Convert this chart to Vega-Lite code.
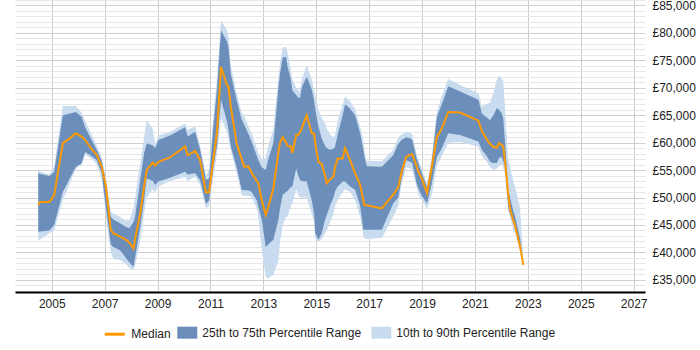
{
  "$schema": "https://vega.github.io/schema/vega-lite/v6.json",
  "width": 630,
  "height": 292,
  "autosize": "none",
  "padding": {"left": 15, "top": 0, "right": 55, "bottom": 58},
  "background": "white",
  "config": {
    "view": {"stroke": null},
    "font": "Liberation Sans",
    "axis": {"labelFont": "Liberation Sans", "labelFontSize": 12, "labelColor": "#222", "title": null},
    "legend": {"padding": 0, "labelFont": "Liberation Sans", "labelFontSize": 12, "labelColor": "#222", "labelOffset": 5, "title": null}
  },
  "data": {"values": [
    {"t":2004.49,"p10":42250,"p25":43770,"m":48650,"p75":54520,"p90":54900},
    {"t":2004.56,"p10":42300,"p25":43800,"m":49200,"p75":54300,"p90":54700},
    {"t":2004.91,"p10":43500,"p25":44000,"m":49200,"p75":53900,"p90":54200},
    {"t":2005.09,"p10":44000,"p25":45000,"m":50400,"p75":54700,"p90":55500},
    {"t":2005.42,"p10":49500,"p25":51000,"m":59900,"p75":65000,"p90":66700},
    {"t":2005.63,"p10":52000,"p25":53000,"m":60600,"p75":65200,"p90":66700},
    {"t":2005.91,"p10":55200,"p25":55600,"m":61700,"p75":65600,"p90":66700},
    {"t":2006.13,"p10":56000,"p25":56200,"m":61100,"p75":64700,"p90":65500},
    {"t":2006.26,"p10":57800,"p25":58300,"m":60500,"p75":62800,"p90":64000},
    {"t":2006.51,"p10":57000,"p25":57500,"m":58800,"p75":60500,"p90":61500},
    {"t":2006.70,"p10":56000,"p25":56800,"m":57800,"p75":58700,"p90":59500},
    {"t":2006.89,"p10":53500,"p25":54400,"m":55600,"p75":56600,"p90":57300},
    {"t":2007.05,"p10":46500,"p25":48000,"m":52000,"p75":52500,"p90":53500},
    {"t":2007.23,"p10":40000,"p25":41500,"m":44100,"p75":46500,"p90":47500},
    {"t":2007.33,"p10":38800,"p25":41000,"m":43500,"p75":46000,"p90":47000},
    {"t":2007.58,"p10":38600,"p25":40400,"m":42850,"p75":45300,"p90":46500},
    {"t":2007.77,"p10":38000,"p25":39200,"m":42400,"p75":44700,"p90":45800},
    {"t":2007.93,"p10":37200,"p25":38200,"m":41800,"p75":44400,"p90":45800},
    {"t":2008.09,"p10":36800,"p25":37400,"m":40700,"p75":45500,"p90":48000},
    {"t":2008.15,"p10":37500,"p25":39000,"m":42500,"p75":46500,"p90":50000},
    {"t":2008.34,"p10":42000,"p25":44500,"m":47000,"p75":53000,"p90":56000},
    {"t":2008.49,"p10":47000,"p25":49500,"m":52000,"p75":58000,"p90":61000},
    {"t":2008.59,"p10":50000,"p25":53500,"m":55000,"p75":59900,"p90":64100},
    {"t":2008.82,"p10":51500,"p25":53000,"m":56400,"p75":59500,"p90":62500},
    {"t":2008.91,"p10":50800,"p25":52300,"m":55800,"p75":59000,"p90":59600},
    {"t":2009.03,"p10":52000,"p25":52900,"m":56500,"p75":60500,"p90":61300},
    {"t":2009.47,"p10":53000,"p25":53600,"m":57300,"p75":61300,"p90":62000},
    {"t":2010.04,"p10":53800,"p25":54700,"m":59300,"p75":62800,"p90":63500},
    {"t":2010.14,"p10":53000,"p25":54200,"m":57700,"p75":61100,"p90":62300},
    {"t":2010.42,"p10":53800,"p25":54400,"m":58500,"p75":62000,"p90":63000},
    {"t":2010.61,"p10":52300,"p25":53200,"m":56800,"p75":58700,"p90":59500},
    {"t":2010.83,"p10":48000,"p25":48800,"m":50900,"p75":53200,"p90":54000},
    {"t":2010.95,"p10":48500,"p25":49500,"m":51000,"p75":53500,"p90":55000},
    {"t":2011.11,"p10":54000,"p25":55500,"m":57000,"p75":63000,"p90":64500},
    {"t":2011.25,"p10":58000,"p25":59500,"m":62000,"p75":70000,"p90":72000},
    {"t":2011.40,"p10":64500,"p25":67800,"m":73800,"p75":80500,"p90":82300},
    {"t":2011.62,"p10":62000,"p25":64000,"m":70500,"p75":78500,"p90":80500},
    {"t":2011.68,"p10":60500,"p25":62500,"m":70200,"p75":77500,"p90":79500},
    {"t":2011.77,"p10":58500,"p25":59300,"m":66500,"p75":72500,"p90":74000},
    {"t":2011.99,"p10":54500,"p25":55500,"m":59900,"p75":67800,"p90":69000},
    {"t":2012.18,"p10":50500,"p25":51400,"m":57000,"p75":64200,"p90":65500},
    {"t":2012.28,"p10":50300,"p25":51300,"m":55600,"p75":63200,"p90":64800},
    {"t":2012.43,"p10":50300,"p25":51300,"m":55700,"p75":61600,"p90":63000},
    {"t":2012.56,"p10":50000,"p25":51000,"m":54500,"p75":60100,"p90":61600},
    {"t":2012.75,"p10":48000,"p25":49500,"m":53000,"p75":57600,"p90":59000},
    {"t":2012.81,"p10":46500,"p25":48300,"m":52600,"p75":56800,"p90":58000},
    {"t":2012.94,"p10":40500,"p25":46000,"m":49500,"p75":55500,"p90":57000},
    {"t":2013.09,"p10":35500,"p25":41000,"m":46800,"p75":55000,"p90":57200},
    {"t":2013.19,"p10":35300,"p25":41500,"m":48300,"p75":57000,"p90":59500},
    {"t":2013.38,"p10":35900,"p25":42300,"m":51700,"p75":60000,"p90":62500},
    {"t":2013.57,"p10":38500,"p25":46000,"m":58300,"p75":70000,"p90":72000},
    {"t":2013.63,"p10":42000,"p25":48000,"m":60000,"p75":72500,"p90":74500},
    {"t":2013.73,"p10":45000,"p25":50500,"m":61000,"p75":75500,"p90":77300},
    {"t":2013.86,"p10":46500,"p25":51000,"m":60000,"p75":75600,"p90":77500},
    {"t":2013.91,"p10":46500,"p25":51200,"m":59400,"p75":74000,"p90":76500},
    {"t":2014.04,"p10":48500,"p25":51900,"m":59300,"p75":71500,"p90":73300},
    {"t":2014.10,"p10":49000,"p25":52000,"m":58100,"p75":69500,"p90":71500},
    {"t":2014.24,"p10":51500,"p25":55300,"m":61400,"p75":68700,"p90":70000},
    {"t":2014.32,"p10":50500,"p25":54000,"m":61400,"p75":68200,"p90":69500},
    {"t":2014.39,"p10":50000,"p25":53200,"m":62000,"p75":68200,"p90":69500},
    {"t":2014.45,"p10":50000,"p25":53000,"m":62600,"p75":70000,"p90":71500},
    {"t":2014.64,"p10":50000,"p25":52900,"m":65000,"p75":72000,"p90":74100},
    {"t":2014.83,"p10":47000,"p25":49500,"m":61700,"p75":69700,"p90":71500},
    {"t":2014.92,"p10":45500,"p25":47000,"m":61600,"p75":67500,"p90":69500},
    {"t":2014.96,"p10":42500,"p25":43500,"m":60000,"p75":66200,"p90":68500},
    {"t":2015.08,"p10":41900,"p25":42300,"m":56500,"p75":63000,"p90":66000},
    {"t":2015.21,"p10":42500,"p25":43500,"m":56100,"p75":60700,"p90":64500},
    {"t":2015.33,"p10":43500,"p25":45900,"m":54000,"p75":59500,"p90":63500},
    {"t":2015.40,"p10":44000,"p25":46800,"m":52600,"p75":59000,"p90":62500},
    {"t":2015.52,"p10":45500,"p25":48500,"m":53300,"p75":58700,"p90":61500},
    {"t":2015.65,"p10":47000,"p25":50000,"m":53800,"p75":58900,"p90":61000},
    {"t":2015.71,"p10":48500,"p25":51100,"m":55500,"p75":59200,"p90":61300},
    {"t":2015.81,"p10":49500,"p25":52000,"m":57100,"p75":61500,"p90":64000},
    {"t":2016.00,"p10":51000,"p25":52900,"m":57100,"p75":65000,"p90":67000},
    {"t":2016.09,"p10":51500,"p25":52900,"m":59000,"p75":67000,"p90":68400},
    {"t":2016.28,"p10":51000,"p25":52000,"m":56800,"p75":66200,"p90":67500},
    {"t":2016.47,"p10":49500,"p25":51400,"m":54400,"p75":65000,"p90":66200},
    {"t":2016.66,"p10":46500,"p25":48500,"m":52300,"p75":61700,"p90":63000},
    {"t":2016.78,"p10":43000,"p25":44100,"m":49500,"p75":58800,"p90":60500},
    {"t":2016.82,"p10":42500,"p25":44100,"m":48600,"p75":57500,"p90":58500},
    {"t":2016.91,"p10":42500,"p25":44100,"m":48600,"p75":55700,"p90":56700},
    {"t":2017.48,"p10":42600,"p25":44100,"m":48000,"p75":55600,"p90":56600},
    {"t":2017.91,"p10":46500,"p25":48900,"m":50500,"p75":57700,"p90":58700},
    {"t":2018.10,"p10":48500,"p25":50000,"m":51900,"p75":59800,"p90":61000},
    {"t":2018.23,"p10":52500,"p25":53500,"m":54700,"p75":60500,"p90":61500},
    {"t":2018.40,"p10":55500,"p25":56800,"m":57400,"p75":61000,"p90":62000},
    {"t":2018.55,"p10":55300,"p25":56500,"m":57800,"p75":60800,"p90":61800},
    {"t":2018.63,"p10":55000,"p25":56300,"m":57900,"p75":60500,"p90":61500},
    {"t":2018.80,"p10":51800,"p25":52500,"m":55600,"p75":57000,"p90":57800},
    {"t":2018.86,"p10":50500,"p25":51700,"m":54700,"p75":56200,"p90":57000},
    {"t":2018.99,"p10":49500,"p25":50300,"m":53500,"p75":54500,"p90":55300},
    {"t":2019.19,"p10":48000,"p25":48900,"m":50800,"p75":51800,"p90":52500},
    {"t":2019.37,"p10":50500,"p25":52600,"m":55600,"p75":56500,"p90":57500},
    {"t":2019.56,"p10":55800,"p25":57400,"m":61000,"p75":64700,"p90":65600},
    {"t":2019.75,"p10":57500,"p25":59000,"m":62600,"p75":67000,"p90":68500},
    {"t":2019.99,"p10":60000,"p25":61700,"m":65600,"p75":70300,"p90":71600},
    {"t":2020.44,"p10":60100,"p25":61400,"m":65500,"p75":69300,"p90":70500},
    {"t":2021.13,"p10":59300,"p25":60200,"m":64000,"p75":67800,"p90":69000},
    {"t":2021.26,"p10":57500,"p25":58700,"m":62100,"p75":65300,"p90":66600},
    {"t":2021.45,"p10":56500,"p25":57500,"m":60600,"p75":64600,"p90":67000},
    {"t":2021.57,"p10":55500,"p25":56500,"m":59800,"p75":64100,"p90":67300},
    {"t":2021.70,"p10":55000,"p25":56300,"m":59200,"p75":65000,"p90":69000},
    {"t":2021.83,"p10":55300,"p25":56300,"m":59100,"p75":66300,"p90":71500},
    {"t":2021.91,"p10":55800,"p25":57200,"m":59900,"p75":66000,"p90":72300},
    {"t":2022.01,"p10":56000,"p25":57400,"m":59600,"p75":65400,"p90":71600},
    {"t":2022.07,"p10":55500,"p25":56600,"m":59300,"p75":64500,"p90":71400},
    {"t":2022.14,"p10":54000,"p25":55600,"m":56500,"p75":59900,"p90":66000},
    {"t":2022.26,"p10":47500,"p25":48300,"m":50500,"p75":51400,"p90":56800},
    {"t":2022.33,"p10":46500,"p25":47000,"m":47850,"p75":50000,"p90":55500},
    {"t":2022.45,"p10":44000,"p25":45300,"m":45800,"p75":47500,"p90":53000},
    {"t":2022.52,"p10":43500,"p25":44500,"m":44700,"p75":46500,"p90":52000},
    {"t":2022.71,"p10":40000,"p25":40500,"m":41000,"p75":42500,"p90":48000},
    {"t":2022.83,"p10":37300,"p25":37600,"m":37700,"p75":38000,"p90":38300}
  ]},
  "encoding": {
    "x": {
      "field": "t", "type": "quantitative",
      "scale": {"domain": [2003.61, 2027.43], "nice": false, "zero": false},
      "axis": {
        "values": [2005, 2007, 2009, 2011, 2013, 2015, 2017, 2019, 2021, 2023, 2025, 2027],
        "tickCount": 30,
        "format": "d", "grid": true, "gridColor": "#cccccc", "gridWidth": 1,
        "domain": true, "domainColor": "#000000", "domainWidth": 2,
        "ticks": false, "labelPadding": 6
      }
    }
  },
  "layer": [
    {
      "mark": {"type": "area", "opacity": 1},
      "encoding": {
        "y": {
          "field": "p10", "type": "quantitative",
          "scale": {"domain": [32776, 86000], "nice": false, "zero": false},
          "axis": {
            "orient": "right",
            "values": [33000,34000,35000,36000,37000,38000,39000,40000,41000,42000,43000,44000,45000,46000,47000,48000,49000,50000,51000,52000,53000,54000,55000,56000,57000,58000,59000,60000,61000,62000,63000,64000,65000,66000,67000,68000,69000,70000,71000,72000,73000,74000,75000,76000,77000,78000,79000,80000,81000,82000,83000,84000,85000,86000],
            "tickCount": 100,
            "labelExpr": "datum.value % 5000 === 0 ? '£' + format(datum.value, ',') : ''",
            "labelOverlap": false,
            "grid": true,
            "gridColor": {"condition": {"test": "datum.value % 5000 === 0", "value": "#cfcfcf"}, "value": "#e6e6e6"},
            "domain": false, "ticks": false, "labelPadding": 7
          }
        },
        "y2": {"field": "p90"},
        "fill": {
          "datum": "10th to 90th Percentile Range",
          "scale": {
            "domain": ["25th to 75th Percentile Range", "10th to 90th Percentile Range"],
            "range": ["#6b8fba", "#c9dbee"]
          },
          "legend": {
            "orient": "none", "legendX": 162.3, "legendY": 322.7,
            "direction": "horizontal",
            "symbolType": "M-1,-0.6H1V0.6H-1Z", "symbolSize": 400,
            "symbolStrokeWidth": 0, "symbolOpacity": 0.8,
            "columnPadding": 10
          }
        }
      }
    },
    {
      "mark": {"type": "area", "opacity": 1},
      "encoding": {
        "y": {"field": "p25", "type": "quantitative"},
        "y2": {"field": "p75"},
        "fill": {"datum": "25th to 75th Percentile Range"}
      }
    },
    {
      "mark": {"type": "line", "strokeWidth": 2},
      "encoding": {
        "y": {"field": "m", "type": "quantitative"},
        "stroke": {
          "datum": "Median",
          "scale": {"domain": ["Median"], "range": ["#FF9900"]},
          "legend": {
            "orient": "none", "legendX": 88.3, "legendY": 322.7,
            "direction": "horizontal",
            "symbolType": "stroke", "symbolSize": 400, "symbolStrokeWidth": 3
          }
        }
      }
    }
  ]
}
